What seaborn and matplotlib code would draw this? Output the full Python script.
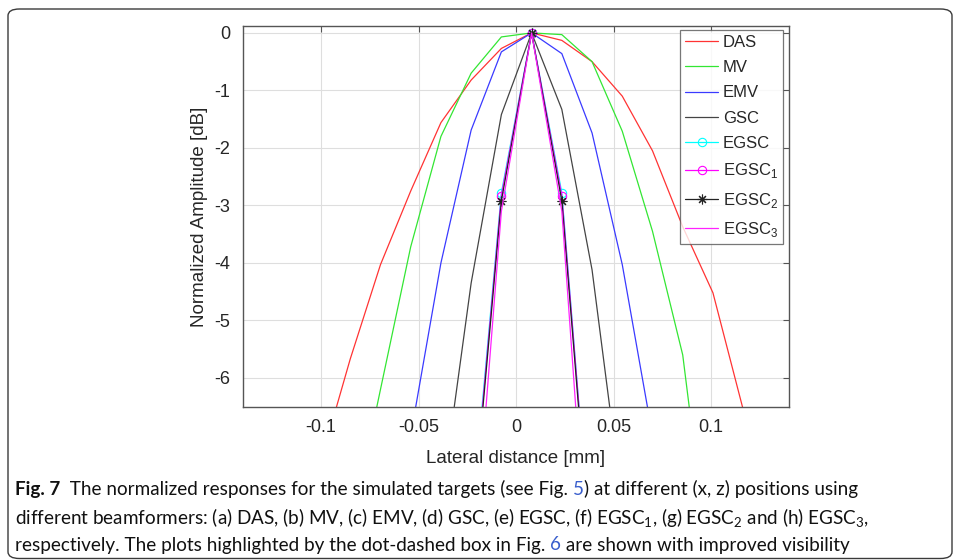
import numpy as np
import pandas as pd
import matplotlib
matplotlib.use("Agg")
import matplotlib.pyplot as plt
import seaborn as sns
from matplotlib.patches import FancyBboxPatch
from matplotlib.offsetbox import TextArea, HPacker, AnchoredOffsetbox

# ---------------- data ----------------
lateral_mm = [-0.1005, -0.085, -0.0695, -0.054, -0.0385, -0.023, -0.0075, 0.008,
              0.0235, 0.039, 0.0545, 0.07, 0.0855, 0.101, 0.1165]
nan = np.nan
das   = [-7.5, -5.67, -4.03, -2.75, -1.56, -0.82, -0.27, 0.0, -0.13, -0.50, -1.10, -2.05, -3.37, -4.52, -6.55]
mv    = [nan, -8.7, -6.2, -3.72, -1.80, -0.70, -0.07, 0.0, -0.03, -0.50, -1.71, -3.45, -5.60, -9.8, nan]
emv   = [nan, nan, nan, -7.0, -4.0, -1.69, -0.33, 0.0, -0.36, -1.74, -4.03, -7.0, nan, nan, nan]
gsc   = [nan, nan, nan, nan, -8.2, -4.35, -1.42, 0.0, -1.33, -4.12, -8.2, nan, nan, nan, nan]
egsc  = [nan, nan, nan, nan, nan, -8.6, -2.78, 0.0, -2.78, -9.3, nan, nan, nan, nan, nan]
egsc1 = [nan, nan, nan, nan, nan, -8.7, -2.83, 0.0, -2.83, -9.3, nan, nan, nan, nan, nan]
egsc2 = [nan, nan, nan, nan, nan, -8.8, -2.92, 0.0, -2.92, -9.4, nan, nan, nan, nan, nan]
egsc3 = [nan, nan, nan, nan, nan, -9.8, -3.10, 0.0, -3.10, -10.5, nan, nan, nan, nan, nan]

series_names = ["DAS", "MV", "EMV", "GSC", "EGSC", "EGSC1", "EGSC2", "EGSC3"]
series_values = [das, mv, emv, gsc, egsc, egsc1, egsc2, egsc3]
legend_labels = ["DAS", "MV", "EMV", "GSC", "EGSC",
                 r"EGSC$_\mathregular{1}$", r"EGSC$_\mathregular{2}$", r"EGSC$_\mathregular{3}$"]
x_ticks = [-0.1, -0.05, 0, 0.05, 0.1]
x_tick_labels = ["-0.1", "-0.05", "0", "0.05", "0.1"]
y_ticks = [0, -1, -2, -3, -4, -5, -6]

# ---------------- styles ----------------
colors = ["#ff3333", "#33e633", "#3a3aff", "#444444", "#00ffff", "#ff00ff", "#222222", "#ff22ff"]
markers = [None, None, None, None, "o", "o", (8, 2, 0), None]

rows = []
for name, vals in zip(series_names, series_values):
    for x, y in zip(lateral_mm, vals):
        rows.append((name, x, y))
df = pd.DataFrame(rows, columns=["series", "lateral", "amp"]).dropna()

sns.set_style("white")
plt.rcParams["font.family"] = ["Liberation Sans", "DejaVu Sans"]
plt.rcParams["axes.unicode_minus"] = False

fig = plt.figure(figsize=(9.57, 5.60), dpi=100)
ax = fig.add_axes([243 / 957, 1 - 406.7 / 560, 546 / 957, 380.7 / 560])

for name, lab, col, mk in zip(series_names, legend_labels, colors, markers):
    kws = dict(color=col, linewidth=0.9)
    if mk is not None:
        kws.update(marker=mk, markersize=6 if mk == "o" else 7,
                   markerfacecolor="none", markeredgecolor=col, markeredgewidth=0.8)
    sns.lineplot(data=df[df["series"] == name], x="lateral", y="amp", ax=ax,
                 sort=False, estimator=None, label=lab, **kws)

ax.set_xlim(-0.14, 0.14)
ax.set_ylim(-6.5, 0.12)
ax.set_xticks(x_ticks)
ax.set_xticklabels(x_tick_labels)
ax.set_yticks(y_ticks)
ax.grid(True, color="#dedede", linewidth=0.8)
ax.set_axisbelow(True)
for s in ax.spines.values():
    s.set_color("#555555")
    s.set_linewidth(1.0)
ax.tick_params(direction="in", length=4, width=0.8, color="#555555", top=True, right=True,
               labelsize=13, labelcolor="#262626", pad=9)
ax.set_xlabel("Lateral distance [mm]", fontsize=13.5, color="#262626", labelpad=10)
ax.set_ylabel("Normalized Amplitude [dB]", fontsize=13.5, color="#262626", labelpad=5)

leg = ax.legend(loc="upper right", bbox_to_anchor=(0.989, 0.99), borderaxespad=0,
                fontsize=12, frameon=True, fancybox=False, edgecolor="#555555",
                handlelength=1.95, handletextpad=0.3, labelspacing=0.62, borderpad=0.3)
leg.get_frame().set_linewidth(0.9)

# ---------------- caption & frame ----------------
fig.add_artist(FancyBboxPatch((8 / 957, 1.5 / 560), 944 / 957, 549.5 / 560,
                              boxstyle="round,pad=0,rounding_size=0.012",
                              transform=fig.transFigure, facecolor="none",
                              edgecolor="#3a3a3a", linewidth=1.0, zorder=0))

cap_font = ["Lato", "Liberation Sans"]
link = "#3a5fcd"
dark = "#111111"
caption_lines = [
    [("Fig. 7", "bold", dark), ("  The normalized responses for the simulated targets (see Fig. ", "normal", dark),
     ("5", "normal", link), (") at different (x, z) positions using", "normal", dark)],
    [(r"different beamformers: (a) DAS, (b) MV, (c) EMV, (d) GSC, (e) EGSC, (f) EGSC$_\mathregular{1}$, (g) EGSC$_\mathregular{2}$ and (h) EGSC$_\mathregular{3}$,", "normal", dark)],
    [("respectively. The plots highlighted by the dot-dashed box in Fig. ", "normal", dark),
     ("6", "normal", link), (" are shown with improved visibility", "normal", dark)],
]
line_targets_px = [870, 855, 873]
line_y = [489, 518, 545]

# choose one caption font size so the lines are about as long as in the reference
renderer = fig.canvas.get_renderer()
s0 = 14.0
ratios = []
for segs, tw in zip(caption_lines, line_targets_px):
    t = fig.text(0, 0, "".join(s for s, _, _ in segs), fontsize=s0, family=cap_font)
    w = t.get_window_extent(renderer).width
    t.remove()
    ratios.append(tw / w)
cap_size = s0 * min(ratios)

for segs, yy in zip(caption_lines, line_y):
    children = [TextArea(t, textprops=dict(fontsize=cap_size, fontweight=w, color=c, family=cap_font))
                for t, w, c in segs]
    box = HPacker(children=children, align="baseline", pad=0, sep=0)
    fig.add_artist(AnchoredOffsetbox(loc="center left", child=box, pad=0, borderpad=0, frameon=False,
                                     bbox_to_anchor=(15 / 957, 1 - yy / 560),
                                     bbox_transform=fig.transFigure))

fig.savefig("out.png", dpi=100)
